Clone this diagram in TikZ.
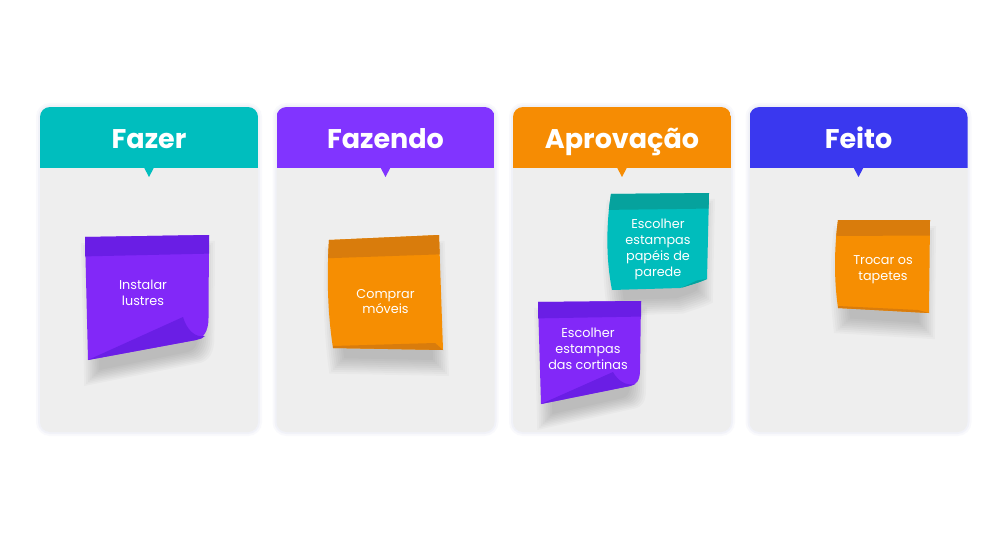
\documentclass[tikz,border=0pt]{standalone}
\usepackage{fontspec}
\setmainfont{Poppins}
\definecolor{cardbg}{HTML}{EEEEEE}
\definecolor{cardsh}{HTML}{C8CCE6}
\definecolor{notesh}{HTML}{000000}
\definecolor{cteal}{HTML}{00BEBE}
\definecolor{cpurple}{HTML}{8134FF}
\definecolor{corange}{HTML}{F68C03}
\definecolor{cblue}{HTML}{3A38EF}
\definecolor{npurple}{HTML}{8228F8}
\definecolor{npurpled}{HTML}{6A1EE5}
\definecolor{norange}{HTML}{F68E02}
\definecolor{noranged}{HTML}{D97C0C}
\definecolor{nteal}{HTML}{00BDBC}
\definecolor{nteald}{HTML}{06A29D}
% #1 cx, #2 cy, #3 half width, #4 half height, #5 path
\newcommand\mynoteshadow[5]{%
  \foreach \e in {10,8,...,-6}{%
    \begin{scope}[shift={(#1+1,#2+16)}, xscale={(#3+\e-5)/#3}, yscale={(#4+\e)/#4}, shift={(-#1,-#2)}]
      \fill[notesh, opacity=0.022] #5;
    \end{scope}}}
\begin{document}
\begin{tikzpicture}[x=1pt,y=-1pt,
 title/.style={font=\bfseries\fontsize{27}{30}\selectfont, text=white, inner sep=0pt, anchor=base},
 notetext/.style={font=\fontsize{12.8}{15.8}\selectfont, text=white, align=center, inner sep=0pt},
 card/.style={fill=cardbg, rounded corners=10pt}]
\useasboundingbox[fill=white] (0,0) rectangle (1000,540);
% cards
\foreach \L/\c/\n/\t in {40/cteal/1/Fazer, 276.5/cpurple/2/Fazendo, 513/corange/3/Aprovação, 749.5/cblue/4/Feito}{
  \draw[cardsh, opacity=0.10, line width=8pt, rounded corners=10pt] (\L,107) rectangle ++(218,325);
  \draw[cardsh, opacity=0.15, line width=4pt, rounded corners=10pt] (\L,107) rectangle ++(218,325);
  \fill[card] (\L,107) rectangle ++(218,325);
  \begin{scope}
    \clip[rounded corners=10pt] (\L,107) rectangle ++(218,325);
    \fill[\c] (\L,107) rectangle ++(218,61);
  \end{scope}
  \fill[\c] (\L+104,167.5) -- (\L+114,167.5) -- (\L+109,177) -- cycle;
  \node[title] (h\n) at (\L+109,149) {\t};
}
% note 1 (purple, Fazer)
\mynoteshadow{147}{298}{62}{62}{(85,237) -- (209,235) -- (208.5,318) .. controls (208.5,332) and (203,338) .. (196,340) -- (88,360) -- cycle}
\fill[npurple] (85,237) -- (209,235) -- (208.5,318) .. controls (208.5,332) and (203,338) .. (196,340) -- (88,360) -- cycle;
\begin{scope}
  \clip (85,237) -- (209,235) -- (209,360) -- (85,360) -- cycle;
  \fill[npurpled] (80,230) -- (215,230) -- (215,253.5) -- (80,256.5) -- cycle;
\end{scope}
\fill[npurpled] (88,360) -- (183,317) .. controls (187,330) and (195,338) .. (205,336) .. controls (202,338.5) .. (196,340) -- cycle;
\node[notetext] (t1) at (143,293) {Instalar\\lustres};
% note 2 (orange, Fazendo)
\mynoteshadow{386}{293}{57}{57}{(329,240) -- (439,235) -- (443,350) -- (333,348) .. controls (327,310) and (327,270) .. (329,240) -- cycle}
\fill[norange] (329,240) -- (439,235) -- (443,350) -- (333,348) .. controls (327,310) and (327,270) .. (329,240) -- cycle;
\begin{scope}
  \clip (329,240) -- (439,235) -- (443,350) -- (333,348) .. controls (327,310) and (327,270) .. (329,240) -- cycle;
  \fill[noranged] (320,230) -- (450,230) -- (450,254) -- (320,258.5) -- cycle;
\end{scope}
\fill[noranged] (333,346) -- (435,343) -- (443,350) -- (333,348) -- cycle;
\node[notetext] (t2) at (385.5,301.5) {Comprar\\móveis};
% note 3 (teal, Aprovação)
\mynoteshadow{660}{242}{49}{48}{(611,194) -- (709,193) -- (707,279) .. controls (700,282) .. (680,288) -- (612,290) .. controls (606,260) and (606,225) .. (611,194) -- cycle}
\fill[nteal] (611,194) -- (709,193) -- (707,279) .. controls (700,282) .. (680,288) -- (612,290) .. controls (606,260) and (606,225) .. (611,194) -- cycle;
\begin{scope}
  \clip (611,194) -- (709,193) -- (707,279) .. controls (700,282) .. (680,288) -- (612,290) .. controls (606,260) and (606,225) .. (611,194) -- cycle;
  \fill[nteald] (600,185) -- (715,185) -- (715,208.5) -- (600,210) -- cycle;
\end{scope}
\fill[nteald] (681,288) -- (697,280.5) -- (707,279) .. controls (700,282) .. (681,288) -- cycle;
\node[notetext] (t3) at (658,249.5) {Escolher\\estampas\\papéis de\\parede};
% note 4 (purple, Aprovação)
\mynoteshadow{589}{353}{51}{51}{(538,302) -- (641,301) -- (640,370) .. controls (640,381) and (636,385) .. (630,386) -- (541,404) -- cycle}
\fill[npurple] (538,302) -- (641,301) -- (640,370) .. controls (640,381) and (636,385) .. (630,386) -- (541,404) -- cycle;
\begin{scope}
  \clip (538,302) -- (641,301) -- (641,404) -- (538,404) -- cycle;
  \fill[npurpled] (530,295) -- (645,295) -- (645,316.5) -- (530,318.5) -- cycle;
\end{scope}
\fill[npurpled] (541,404) -- (613,372) .. controls (618,381) and (626,386) .. (635,384) .. controls (633,385.5) .. (630,386) -- cycle;
\node[notetext] (t4) at (588,349) {Escolher\\estampas\\das cortinas};
% note 5 (orange, Feito)
\mynoteshadow{884}{266}{46}{46}{(838,220) -- (930,220) -- (929,313) -- (838,308) .. controls (834,280) and (834,250) .. (838,220) -- cycle}
\fill[norange] (838,220) -- (930,220) -- (929,313) -- (838,308) .. controls (834,280) and (834,250) .. (838,220) -- cycle;
\begin{scope}
  \clip (838,220) -- (930,220) -- (929,313) -- (838,308) .. controls (834,280) and (834,250) .. (838,220) -- cycle;
  \fill[noranged] (830,215) -- (935,215) -- (935,235.5) -- (830,236) -- cycle;
\end{scope}
\fill[noranged] (838,306) -- (918,310) -- (929,313) -- (838,308) -- cycle;
\node[notetext] (t5) at (883,270) {Trocar os\\tapetes};
\end{tikzpicture}
\end{document}
